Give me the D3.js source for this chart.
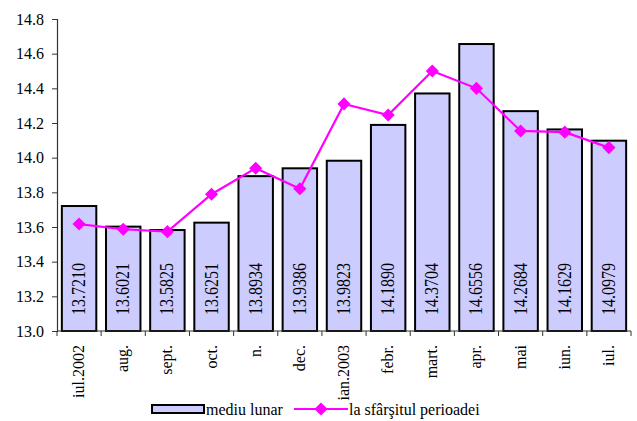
<!DOCTYPE html>
<html>
<head>
<meta charset="utf-8">
<script src="https://cdn.jsdelivr.net/npm/d3@7"></script>
</head>
<body style="margin:0;background:#fff">
<svg id="chart"></svg>
<script>
const months = ["iul.2002", "aug.", "sept.", "oct.", "n.", "dec.", "ian.2003", "febr.", "mart.", "apr.", "mai", "iun.", "iul."];
const monthlyAvg = [13.7210, 13.6021, 13.5825, 13.6251, 13.8934, 13.9386, 13.9823, 14.1890, 14.3704, 14.6556, 14.2684, 14.1629, 14.0979];
const endOfPeriod = [13.617, 13.587, 13.573, 13.789, 13.939, 13.821, 14.31, 14.246, 14.50, 14.40, 14.154, 14.147, 14.058];
const yTicks = [13.0, 13.2, 13.4, 13.6, 13.8, 14.0, 14.2, 14.4, 14.6, 14.8];
const seriesNames = ["mediu lunar", "la sfârşitul perioadei"];

const FONT = "'Liberation Serif'";
const width = 637, height = 421;
const margin = {top: 19, right: 6, bottom: 90, left: 57};
const innerW = width - margin.left - margin.right;
const innerH = height - margin.top - margin.bottom;

const svg = d3.select("#chart")
    .attr("width", width)
    .attr("height", height);

const chart = svg.append("g")
    .attr("transform", `translate(${margin.left},${margin.top})`);

const xScale = d3.scaleBand()
    .domain(months)
    .range([0, innerW])
    .paddingInner(0.22)
    .paddingOuter(0.11);

const yScale = d3.scaleLinear()
    .domain([13.0, 14.8])
    .range([innerH, 0]);

// bars
chart.selectAll(".bar")
  .data(months)
  .join("rect")
    .attr("class", "bar")
    .attr("x", d => xScale(d))
    .attr("width", xScale.bandwidth())
    .attr("y", (d, i) => yScale(monthlyAvg[i]))
    .attr("height", (d, i) => innerH - yScale(monthlyAvg[i]))
    .attr("fill", "#ccccff")
    .attr("stroke", "#000")
    .attr("stroke-width", 2);

// value labels inside the bars (a bit stretched, like the original)
chart.selectAll(".val")
  .data(months)
  .join("text")
    .attr("class", "val")
    .attr("transform", d => `translate(${xScale(d) + xScale.bandwidth() / 2 + 6},${innerH - 16}) rotate(-90) scale(1,1.2)`)
    .attr("text-anchor", "start")
    .style("font-family", FONT)
    .style("font-size", "16px")
    .text((d, i) => monthlyAvg[i].toFixed(4));

// y axis
const yAxis = d3.axisLeft(yScale)
    .tickValues(yTicks)
    .tickFormat(d3.format(".1f"))
    .tickSize(5)
    .tickPadding(8);
const yAxisG = chart.append("g").call(yAxis);
yAxisG.select(".domain").attr("stroke", "#333").attr("stroke-width", 1.2);
yAxisG.selectAll(".tick line").attr("stroke", "#333");
yAxisG.selectAll("text")
    .style("font-family", FONT)
    .style("font-size", "16px")
    .attr("fill", "#000");

// x axis
const xAxisG = chart.append("g").attr("transform", `translate(0,${innerH})`);
xAxisG.append("line")
    .attr("x1", 0).attr("x2", innerW)
    .attr("stroke", "#333").attr("stroke-width", 1.2);
xAxisG.selectAll(".xt")
  .data(d3.range(months.length + 1))
  .join("line")
    .attr("class", "xt")
    .attr("x1", i => i * xScale.step())
    .attr("x2", i => i * xScale.step())
    .attr("y1", 0).attr("y2", 5)
    .attr("stroke", "#333");
xAxisG.selectAll(".xl")
  .data(months)
  .join("text")
    .attr("class", "xl")
    .attr("transform", d => `translate(${xScale(d) + xScale.bandwidth() / 2 + 5},14) rotate(-90)`)
    .attr("text-anchor", "end")
    .style("font-family", FONT)
    .style("font-size", "16px")
    .text(d => d);

// line series
const line = d3.line()
    .x((d, i) => xScale(months[i]) + xScale.bandwidth() / 2)
    .y(d => yScale(d));

chart.append("path")
    .datum(endOfPeriod)
    .attr("fill", "none")
    .attr("stroke", "#ff00ff")
    .attr("stroke-width", 2.2)
    .attr("d", line);

const diamond = d3.symbol().type(d3.symbolDiamond2).size(110);
chart.selectAll(".pt")
  .data(endOfPeriod)
  .join("path")
    .attr("class", "pt")
    .attr("transform", (d, i) => `translate(${xScale(months[i]) + xScale.bandwidth() / 2},${yScale(d)})`)
    .attr("d", diamond)
    .attr("fill", "#ff00ff");

// legend
const legend = svg.append("g");
legend.append("rect")
    .attr("x", 152).attr("y", 405)
    .attr("width", 52).attr("height", 8)
    .attr("fill", "#ccccff")
    .attr("stroke", "#000")
    .attr("stroke-width", 2);
legend.append("text")
    .attr("x", 206).attr("y", 415)
    .style("font-family", FONT)
    .style("font-size", "16px")
    .text(seriesNames[0]);
legend.append("line")
    .attr("x1", 294).attr("x2", 348)
    .attr("y1", 409).attr("y2", 409)
    .attr("stroke", "#ff00ff")
    .attr("stroke-width", 2.2);
legend.append("path")
    .attr("transform", "translate(321,409)")
    .attr("d", diamond)
    .attr("fill", "#ff00ff");
legend.append("text")
    .attr("x", 349).attr("y", 415)
    .style("font-family", FONT)
    .style("font-size", "16px")
    .text(seriesNames[1]);
</script>
</body>
</html>
